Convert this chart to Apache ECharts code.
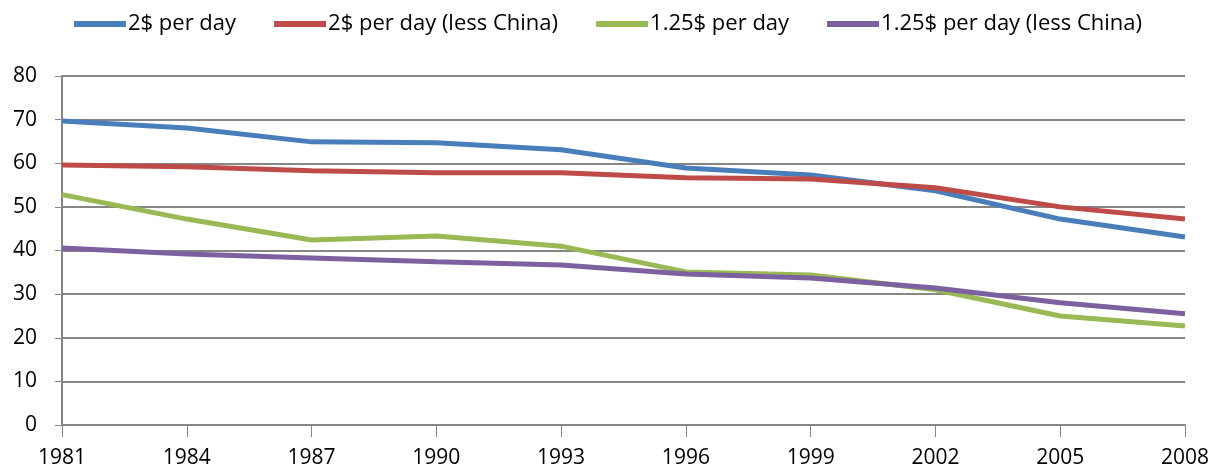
<!DOCTYPE html>
<html>
<head>
<meta charset="utf-8">
<script src="https://cdn.jsdelivr.net/npm/echarts@6/dist/echarts.min.js"></script>
<style>
  html, body { margin: 0; padding: 0; background: #fff; }
  #chart { width: 1216px; height: 473px; }
</style>
</head>
<body>
<div id="chart"></div>
<script>
// years on the x axis
const years = ['1981', '1984', '1987', '1990', '1993', '1996', '1999', '2002', '2005', '2008'];
// poverty headcount, % of population
const perDay2 = [69.7, 68.1, 64.9, 64.7, 63.1, 58.9, 57.3, 53.7, 47.2, 43.1];
const perDay2LessChina = [59.6, 59.2, 58.3, 57.8, 57.8, 56.7, 56.4, 54.4, 50.0, 47.2];
const perDay125 = [52.8, 47.2, 42.4, 43.3, 41.0, 35.1, 34.4, 31.0, 25.0, 22.7];
const perDay125LessChina = [40.6, 39.2, 38.3, 37.4, 36.7, 34.6, 33.7, 31.4, 28.0, 25.5];

const font = "'Open Sans', 'Liberation Sans', sans-serif";
const gray = '#868686';

function line(name, data, color) {
  return {
    name: name,
    type: 'line',
    data: data,
    symbol: 'none',
    smooth: false,
    lineStyle: { width: 5, color: color },
    itemStyle: { color: color }
  };
}

const chart = echarts.init(document.getElementById('chart'));
chart.setOption({
  animation: false,
  backgroundColor: '#fff',
  textStyle: { fontFamily: font },
  legend: {
    top: 8,
    left: 'center',
    icon: 'rect',
    itemWidth: 52,
    itemHeight: 6,
    itemGap: 38,
    textStyle: { fontSize: 22, color: '#000', fontFamily: font, padding: [0, 0, 0, -3] }
  },
  grid: { left: 62, right: 31, top: 76, bottom: 48 },
  xAxis: {
    type: 'category',
    data: years,
    boundaryGap: false,
    axisLine: { lineStyle: { color: gray, width: 2 } },
    axisTick: { show: true, length: 12, lineStyle: { color: gray, width: 1 } },
    axisLabel: { color: '#000', fontSize: 21, margin: 23, fontFamily: font }
  },
  yAxis: {
    type: 'value',
    min: 0,
    max: 80,
    interval: 10,
    axisLine: { show: true, lineStyle: { color: gray, width: 2 } },
    axisTick: { show: true, length: 7, lineStyle: { color: gray, width: 1 } },
    axisLabel: { color: '#000', fontSize: 21, margin: 25, fontFamily: font },
    splitLine: { lineStyle: { color: gray, width: 2 } }
  },
  series: [
    line('2$ per day', perDay2, '#4a7ebb'),
    line('2$ per day (less China)', perDay2LessChina, '#be4b48'),
    line('1.25$ per day', perDay125, '#98b954'),
    line('1.25$ per day (less China)', perDay125LessChina, '#7d60a0')
  ]
});
</script>
</body>
</html>
